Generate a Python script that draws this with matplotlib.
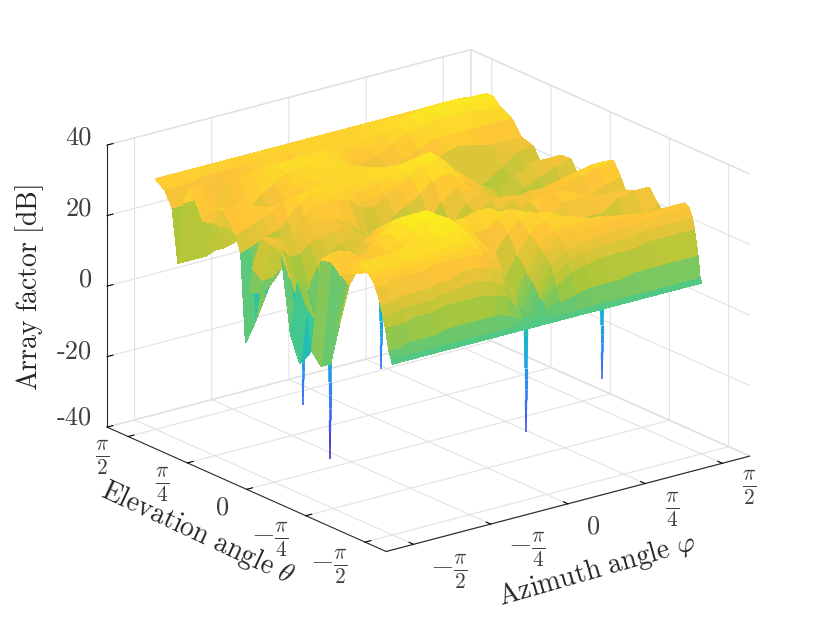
import numpy as np
import matplotlib
matplotlib.use('Agg')
import matplotlib.pyplot as plt
from matplotlib.colors import LinearSegmentedColormap, Normalize

plt.rcParams['mathtext.fontset'] = 'cm'
plt.rcParams['font.family'] = ['cmr10', 'DejaVu Sans']
plt.rcParams['axes.unicode_minus'] = False

# azimuth / elevation sample positions, as fraction of the -pi/2..pi/2 span
phi_frac = [0, .03, .06, .09, .12, .15, .19, .23, .27, .31, .35, .39, .43, .47, .51, .55, .60, .65, .70, .75, .80, .85, .90, .95, 1]
theta_frac = [0, .006, .015, .03, .04, .05, .07, .085, .10, .14, .18, .22, .26, .30, .34, .37, .40, .43, .47, .51, .55, .59, .60, .62, .64, .66, .71, .76, .80, .85, .88, .905, .93, .96, 1]

# array factor in dB, one row per elevation sample
af_db = [
    [8.5]*25,
    [10]*25,
    [12,12,13,13,13,13,14,14,14,14,14,13,11,8,11,13,14,15,15,15,16,16,16,16,16],
    [18,18,18,19,19,19,20,20,20,20,19,18,14,8,13,17,20,21,22,22,22,23,23,23,23],
    [21,21,22,22,22,22,23,23,24,24,23,21,16,7,14,20,23,24,25,25,25,26,26,26,26],
    [24,24,25,25,25,25,26,26,27,27,26,24,18,7,16,22,25,26,27,27,27,28,28,28,28],
    [28,28,29,29,29,29,30,30,30,30,29,26,19,9,18,24,27,28,29,29,29,29,29,29,29],
    [30,30,30,30,30,31,31,31,31,32,30,27,20,10,19,25,28,29,30,30,29,29,28,28,28],
    [31,31,31,31,32,32,32,32,33,33,31,28,22,12,20,26,29,30,30,30,29,28,27,27,27],
    [33,33,33,33,33,34,34,34,34,35,33,30,28,17,23,28,31,31,30,28,24,22,22,22,22],
    [29,28,28,28,29,30,31,33,34,36,34,31,27,23,28,31,32,31,28,24,18,17,20,23,25],
    [27,27,27,27,28,30,32,34,36,37,35,32,29,29,31,33,31,27,24,25,25,25,28,29,29],
    [32,32,31,29,29,31,33,35,36,37,34,32,32,33,33,31,27,22,25,29,29,29,28,28,27],
    [29,28,24,20,24,28,31,34,35,35,32,30,29,28,27,25,20,20,27,31,30,28,26,24,22],
    [2,-3,-3,8,18,24,28,31,33,33,29,25,21,18,16,13,10,22,28,29,27,25,25,27,28],
    [20,10,3,10,18,23,27,30,31,30,26,19,14,14,10,7,12,20,25,27,28,29,30,31,32],
    [20,12,4,9,15,20,24,27,29,27,22,15,12,10,6,12,20,25,27,28,28,29,30,31,31],
    [4,-5,-3,4,12,18,22,25,26,23,17,10,10,8,10,17,24,27,27,26,24,24,25,26,26],
    [26,18,10,14,19,22,24,25,24,20,10,8,10,12,15,20,26,28,25,20,18,16,16,18,20],
    [27,25,22,22,24,25,26,26,24,20,12,13,17,19,22,26,29,27,24,20,17,17,18,20,22],
    [28,27,26,26,27,28,28,28,26,23,18,20,24,26,28,31,32,29,27,24,20,22,24,26,27],
    [18,14,14,16,21,25,29,31,31,30,27,26,28,30,32,34,35,31,27,22,19,24,27,27,27],
    [11,10,11,14,19,23,28,31,31,30,28,28,29,31,32,34,35,31,27,21,19,23,26,25,25],
    [-4,1,7,13,18,22,27,30,31,31,30,30,31,32,33,35,36,32,26,20,18,22,24,23,22],
    [21,22,23,24,25,27,30,32,32,32,31,31,32,33,33,34,35,31,25,19,17,19,21,21,21],
    [25,26,27,28,29,31,32,32,32,32,32,32,33,33,33,33,34,30,24,18,16,17,19,20,20],
    [31,31,31,30,29,28,28,29,30,31,32,32,32,32,31,30,30,27,22,19,18,19,22,25,26],
    [30,29,27,24,22,22,24,27,29,31,32,32,32,31,29,27,26,26,26,28,29,28,27,27,27],
    [25,24,22,21,22,25,28,30,32,33,33,33,32,30,27,25,25,27,29,31,31,31,31,31,31],
    [33,33,33,33,33,33,33,33,33,33,33,33,33,32,29,27,28,30,32,33,34,34,34,33,33],
    [28,28,28,28,29,30,31,31,32,32,32,32,32,32,31,30,30,32,33,34,35,35,35,35,35],
    [10,10,10,10,11,11,12,16,20,24,27,29,31,31,31,31,31,32,33,34,35,35,35,35,35],
    [25,25,25,25,25,26,26,27,28,29,30,31,31,31,31,31,31,32,33,33,34,34,34,34,34],
    [29,29,29,29,30,30,30,30,31,31,31,31,31,31,31,31,31,31,32,32,32,33,33,33,32],
    [31]*25,
]

# deep nulls that hang below the surface
null_phi_frac = [.47, .785, .33, .06, .04]
null_theta_frac = [.05, .14, .48, .34, .43]
null_db = [-23, -18, -15, -30, -17]

# tick labels: text, pixel position in the 830x623 picture
x_labels = [r'$-\frac{\pi}{2}$', r'$-\frac{\pi}{4}$', r'$0$', r'$\frac{\pi}{4}$', r'$\frac{\pi}{2}$']
x_label_px = [(449, 572), (527, 550), (593, 527), (672, 510), (749, 488)]
y_labels = [r'$-\frac{\pi}{2}$', r'$-\frac{\pi}{4}$', r'$0$', r'$\frac{\pi}{4}$', r'$\frac{\pi}{2}$']
y_label_px = [(329, 567), (270, 540), (222, 508), (162, 485), (102, 458)]
z_values = [-40, -20, 0, 20, 40]
z_labels = ['-40', '-20', '0', '20', '40']
z_label_py = [418, 352, 280, 209, 138]

parula = LinearSegmentedColormap.from_list('parula', [
    (0.2422, 0.1504, 0.6603), (0.2810, 0.3228, 0.9579), (0.1786, 0.5289, 0.9682),
    (0.0689, 0.6948, 0.8394), (0.2161, 0.7843, 0.5923), (0.6720, 0.7793, 0.2227),
    (0.9970, 0.7659, 0.2199), (0.9769, 0.9839, 0.0805)])
norm = Normalize(-36, 39)

phi = np.pi * (np.array(phi_frac) - 0.5)
theta = np.pi * (np.array(theta_frac) - 0.5)
P, T = np.meshgrid(phi, theta)
Z = np.array(af_db, dtype=float)

fig = plt.figure(figsize=(8.3, 6.23), dpi=100)
ax = fig.add_axes([5 / 830, 2.5 / 623, 1.0, 1.0], projection='3d', proj_type='ortho', computed_zorder=False)
ax.view_init(elev=20, azim=-127.5)
ax.set_box_aspect((1, 1, 0.655), zoom=1.113)

lim = 1.85
ax.set_xlim(-lim, lim)
ax.set_ylim(-lim, lim)
ax.set_zlim(-40, 40)

# spikes go under the surface so only the part below it shows
for pf, tf, nz in zip(null_phi_frac, null_theta_frac, null_db):
    p = np.pi * (pf - 0.5)
    t = np.pi * (tf - 0.5)
    levels = np.linspace(10, nz, 12)
    for i in range(len(levels) - 1):
        ax.plot([p, p], [t, t], [levels[i], levels[i + 1]], color=parula(norm(levels[i] - 6)),
                lw=3.4 - 2.4 * i / 11, solid_capstyle='butt', zorder=1)

surf = ax.plot_surface(P, T, Z, cmap=parula, norm=norm, rstride=1, cstride=1,
                       linewidth=0.4, antialiased=False, shade=False, zorder=2)
surf.set_edgecolor('face')

pi_ticks = [-np.pi / 2, -np.pi / 4, 0, np.pi / 4, np.pi / 2]
ax.set_xticks(pi_ticks)
ax.set_xticklabels([''] * 5)
ax.set_yticks(pi_ticks)
ax.set_yticklabels([''] * 5)
ax.set_zticks(z_values)
ax.set_zticklabels([''] * 5)

for axis in (ax.xaxis, ax.yaxis, ax.zaxis):
    axis.set_pane_color((1, 1, 1, 1))
    axis.pane.set_edgecolor('#e0e0e0')
    axis.line.set_color('#262626')
    axis.line.set_linewidth(0.8)
    axis._axinfo['grid']['color'] = '#e2e2e2'
    axis._axinfo['grid']['linewidth'] = 0.8
    axis._axinfo['tick']['inward_factor'] = 0.0
    axis._axinfo['tick']['outward_factor'] = 0.2

for lab, (px, py) in zip(x_labels + y_labels, x_label_px + y_label_px):
    fs = 19 if lab == r'$0$' else 22
    fig.text(px / 830, 1 - py / 623, lab, fontsize=fs, ha='center', va='center', color='#404040')
for lab, py in zip(z_labels, z_label_py):
    fig.text(92 / 830, 1 - py / 623, lab, fontsize=19, ha='right', va='center', color='#404040')

fig.text(30 / 830, 1 - 288 / 623, r'$\mathrm{Array\ factor\ [dB]}$', rotation=90, fontsize=20,
         ha='center', va='center', color='#262626')
fig.text(197 / 830, 1 - 533 / 623, r'$\mathrm{Elevation\ angle}\ \theta$', rotation=-25, fontsize=20,
         ha='center', va='center', color='#262626', rotation_mode='anchor')
fig.text(597 / 830, 1 - 570 / 623, r'$\mathrm{Azimuth\ angle}\ \varphi$', rotation=16, fontsize=20,
         ha='center', va='center', color='#262626', rotation_mode='anchor')

fig.savefig('out.png', dpi=100)
